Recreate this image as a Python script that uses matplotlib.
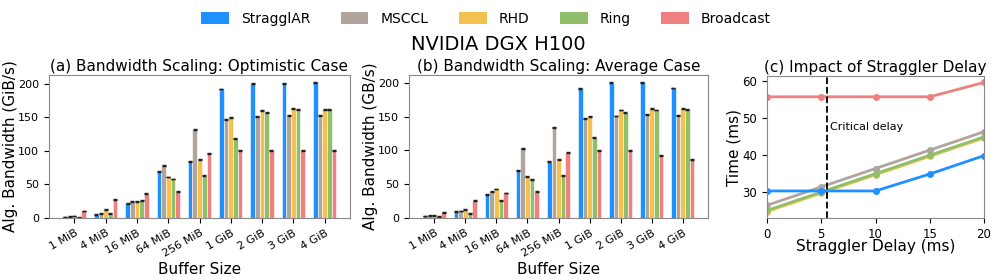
import numpy as np
import matplotlib
matplotlib.use("Agg")
import matplotlib.pyplot as plt
from matplotlib.patches import Patch

plt.rcParams['font.family'] = ['DejaVu Sans']

methods = ["StragglAR", "MSCCL", "RHD", "Ring", "Broadcast"]
colors = ["#1E90FF", "#B0A59C", "#F2C14E", "#8FBF6A", "#F08080"]
sizes = ["1 MiB", "4 MiB", "16 MiB", "64 MiB", "256 MiB", "1 GiB", "2 GiB", "3 GiB", "4 GiB"]

opt_stragglar = [1.5, 5, 22, 69, 84, 192, 199.5, 200.5, 202]
opt_msccl = [2, 6.5, 24.5, 78, 131.5, 146.5, 151.5, 152, 152]
opt_rhd = [3, 13, 24, 61, 86.5, 150, 160.5, 162.5, 162]
opt_ring = [1, 6.5, 26, 58, 63, 118.5, 157, 161, 161.5]
opt_bcast = [10.5, 27, 36, 39, 96, 100, 101, 101, 101]

avg_stragglar = [3, 9.5, 34.5, 70, 83.5, 192, 200, 201, 192.5]
avg_msccl = [3.5, 10.5, 39, 103, 134.5, 147, 151, 153, 152]
avg_rhd = [3.5, 12, 43, 61, 86, 150, 160, 162.5, 162]
avg_ring = [2, 6.5, 25.5, 57, 63, 119, 156, 160, 161]
avg_bcast = [8.5, 25.5, 37, 39, 96.5, 100, 100.5, 92.5, 86.5]

delay = [0, 5, 10, 15, 20]
t_stragglar = [30.2, 30.2, 30.2, 34.8, 39.8]
t_msccl = [26.3, 31.3, 36.3, 41.3, 46.3]
t_rhd = [24.6, 29.6, 34.6, 39.6, 44.6]
t_ring = [24.9, 29.9, 34.9, 39.9, 44.9]
t_bcast = [55.8, 55.8, 55.8, 55.8, 59.7]
critical_delay = 5.5

fig = plt.figure(figsize=(9.96, 2.8), dpi=100)
W, H = 996, 280
def ax_at(l, t, r, b):
    return fig.add_axes([l / W, 1 - b / H, (r - l) / W, (b - t) / H])

ax_a = ax_at(49, 75, 350, 218)
ax_b = ax_at(409, 75, 708, 218)
ax_c = ax_at(767, 76, 984, 218)

TICK = 8
LAB = 11

def bars(ax, series, title, ylabel):
    x = np.arange(len(sizes))
    w = 0.15
    for i, (vals, c) in enumerate(zip(series, colors)):
        ax.bar(x + (i - 2) * w, vals, w, color=c, edgecolor='white', linewidth=0.4,
               yerr=[0.6] * len(vals), capsize=1.5,
               error_kw=dict(ecolor='#222222', elinewidth=0.8, capthick=1.0))
    ax.set_xticks(x)
    ax.set_xticklabels(sizes, rotation=30, ha='right', rotation_mode='anchor', fontsize=TICK)
    ax.tick_params(axis='y', labelsize=TICK)
    ax.set_title(title, fontsize=LAB, pad=3)
    ax.set_ylabel(ylabel, fontsize=LAB, labelpad=0)
    ax.set_xlabel("Buffer Size", fontsize=LAB, labelpad=2)
    ax.set_yticks([0, 50, 100, 150, 200])
    for s in ax.spines.values():
        s.set_color('#888888')

bars(ax_a, [opt_stragglar, opt_msccl, opt_rhd, opt_ring, opt_bcast],
     "(a) Bandwidth Scaling: Optimistic Case", "Alg. Bandwidth (GiB/s)")
bars(ax_b, [avg_stragglar, avg_msccl, avg_rhd, avg_ring, avg_bcast],
     "(b) Bandwidth Scaling: Average Case", "Alg. Bandwidth (GB/s)")

order = [(t_bcast, 4), (t_msccl, 1), (t_rhd, 2), (t_ring, 3), (t_stragglar, 0)]
for vals, ci in order:
    ax_c.plot(delay, vals, color=colors[ci], marker='o', markersize=4, linewidth=2)
ax_c.axvline(critical_delay, color='black', linestyle='--', linewidth=1.3)
ax_c.text(critical_delay + 0.3, 47.5, "Critical delay", fontsize=8, va='center')
ax_c.set_xlim(0, 20)
ax_c.set_xticks([0, 5, 10, 15, 20])
ax_c.set_yticks([30, 40, 50, 60])
ax_c.tick_params(labelsize=8.5)
ax_c.set_title("(c) Impact of Straggler Delay", fontsize=LAB, pad=3)
ax_c.set_xlabel("Straggler Delay (ms)", fontsize=LAB, labelpad=-1)
ax_c.set_ylabel("Time (ms)", fontsize=LAB, labelpad=1)
for s in ax_c.spines.values():
    s.set_color('#888888')

handles = [Patch(facecolor=c, label=m) for m, c in zip(methods, colors)]
fig.legend(handles=handles, loc='center', bbox_to_anchor=(486 / W, 1 - 19 / H),
           ncol=5, frameon=False, fontsize=10, handlelength=2.0, handleheight=0.9,
           columnspacing=2.2, handletextpad=0.86)
fig.text(0.5, 1 - 45 / H, "NVIDIA DGX H100", ha='center', va='center', fontsize=14)

fig.savefig("out.png", dpi=100)
